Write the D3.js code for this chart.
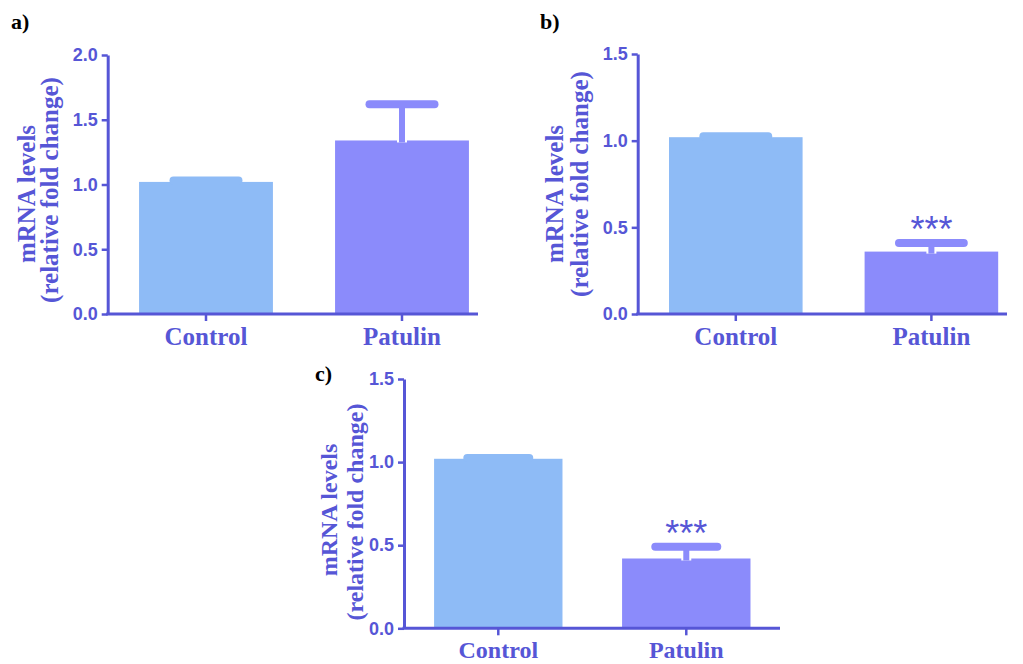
<!DOCTYPE html>
<html>
<head>
<meta charset="utf-8">
<script src="https://cdn.jsdelivr.net/npm/d3@7"></script>
<style>
  html, body { margin: 0; padding: 0; background: #ffffff; }
  svg { display: block; }
</style>
</head>
<body>
<svg id="chart" width="1023" height="664"></svg>
<script>
// ---------- data ----------
const categories = ["Control", "Patulin"];
const valuesA = [1.02, 1.34];
const errorsA = [0.01, 0.28];
const valuesB = [1.02, 0.36];
const errorsB = [0.005, 0.05];
const valuesC = [1.02, 0.42];
const errorsC = [0.004, 0.07];
const ticksA = [0, 0.5, 1.0, 1.5, 2.0];
const ticksB = [0, 0.5, 1.0, 1.5];
const ticksC = [0, 0.5, 1.0, 1.5];
const starsA = ["", ""];
const starsB = ["", "***"];
const starsC = ["", "***"];
const panelLabels = ["a)", "b)", "c)"];
const yTitleLines = ["mRNA levels", "(relative fold change)"];

// ---------- styles ----------
const axisColor = "#5656d6";
const barColors = ["#8ebbf6", "#8b8bfb"];
const serif = "'Liberation Serif', 'Times New Roman', serif";
const sans = "'Liberation Sans', Arial, sans-serif";

const svg = d3.select("#chart");

// layout for each panel
const layouts = [
  { axisX: 107.7, top: 55, bottom: 314, step: 196, xEnd: 478, font: 25, tickFont: 18,
    titleOff: [73, 50], titleCY: [194, 190], labelX: 11, labelY: 29, xlabDy: 31 },
  { axisX: 637.7, top: 54, bottom: 314, step: 195.6, xEnd: 1007, font: 25, tickFont: 18,
    titleOff: [75, 50], titleCY: [194, 184], labelX: 540, labelY: 29, xlabDy: 31 },
  { axisX: 404, top: 379, bottom: 628.3, step: 188, xEnd: 780, font: 24, tickFont: 18,
    titleOff: [67, 41], titleCY: [510, 512], labelX: 315, labelY: 381, xlabDy: 30 }
];

const panels = [
  { values: valuesA, errors: errorsA, ticks: ticksA, stars: starsA, label: panelLabels[0] },
  { values: valuesB, errors: errorsB, ticks: ticksB, stars: starsB, label: panelLabels[1] },
  { values: valuesC, errors: errorsC, ticks: ticksC, stars: starsC, label: panelLabels[2] }
];

const padInner = 0.317, padOuter = 0.16;

panels.forEach((p, i) => {
  const L = layouts[i];
  const g = svg.append("g");
  const n = categories.length;
  const rangeW = L.step * (n - padInner + 2 * padOuter);
  const x = d3.scaleBand().domain(categories)
    .range([L.axisX, L.axisX + rangeW])
    .paddingInner(padInner).paddingOuter(padOuter);
  const y = d3.scaleLinear().domain([0, d3.max(p.ticks)]).range([L.bottom, L.top]);
  const bw = x.bandwidth();

  // bars
  g.selectAll("rect.bar").data(categories).enter().append("rect")
    .attr("class", "bar")
    .attr("x", d => x(d))
    .attr("width", bw)
    .attr("y", (d, k) => y(p.values[k]))
    .attr("height", (d, k) => y(0) - y(p.values[k]))
    .attr("fill", (d, k) => barColors[k]);

  // error bars (upper only)
  const capHalf = bw * 0.545 / 2 - 4;
  categories.forEach((c, k) => {
    const cx = x(c) + bw / 2;
    const yTop = y(p.values[k] + p.errors[k]);
    const yBar = y(p.values[k]);
    if (yBar - yTop > 6) {
      g.append("line").attr("x1", cx).attr("x2", cx)
        .attr("y1", yTop).attr("y2", yBar + 2)
        .attr("stroke", "#ffffff").attr("stroke-width", 10);
      g.append("line").attr("x1", cx).attr("x2", cx)
        .attr("y1", yTop).attr("y2", yBar + 2)
        .attr("stroke", barColors[k]).attr("stroke-width", 6);
    }
    g.append("line")
      .attr("x1", cx - capHalf).attr("x2", cx + capHalf)
      .attr("y1", yTop).attr("y2", yTop)
      .attr("stroke", barColors[k]).attr("stroke-width", 8)
      .attr("stroke-linecap", "round");
    if (p.stars[k]) {
      g.append("text")
        .attr("x", cx).attr("y", yTop - 1)
        .attr("text-anchor", "middle")
        .attr("font-family", sans)
        .attr("font-size", 36)
        .attr("fill", axisColor)
        .text(p.stars[k]);
    }
  });

  // y axis
  const yAxis = d3.axisLeft(y).tickValues(p.ticks).tickFormat(d3.format(".1f"))
    .tickSize(6).tickSizeOuter(0).tickPadding(4);
  const ya = g.append("g").attr("transform", `translate(${L.axisX},0)`).call(yAxis);
  ya.select(".domain").attr("stroke", axisColor).attr("stroke-width", 3);
  ya.selectAll(".tick line").attr("stroke", axisColor).attr("stroke-width", 2.5);
  ya.selectAll(".tick text").attr("fill", axisColor)
    .attr("font-family", sans).attr("font-weight", "bold").attr("font-size", L.tickFont);

  // x axis
  const xAxis = d3.axisBottom(x).tickSize(7).tickSizeOuter(0).tickPadding(6);
  const xa = g.append("g").attr("transform", `translate(0,${L.bottom})`).call(xAxis);
  xa.select(".domain").remove();
  xa.append("line").attr("x1", L.axisX - 1.5).attr("x2", L.xEnd)
    .attr("y1", 0).attr("y2", 0)
    .attr("stroke", axisColor).attr("stroke-width", 3);
  xa.selectAll(".tick line").attr("stroke", axisColor).attr("stroke-width", 2.5);
  xa.selectAll(".tick text").attr("fill", axisColor)
    .attr("font-family", serif).attr("font-weight", "bold").attr("font-size", L.font)
    .attr("dy", null).attr("y", L.xlabDy);

  // y title
  yTitleLines.forEach((t, j) => {
    g.append("text")
      .attr("transform", `translate(${L.axisX - L.titleOff[j]},${L.titleCY[j]}) rotate(-90)`)
      .attr("text-anchor", "middle")
      .attr("font-family", serif).attr("font-weight", "bold").attr("font-size", L.font)
      .attr("fill", axisColor)
      .text(t);
  });

  // panel label
  g.append("text").attr("x", L.labelX).attr("y", L.labelY)
    .attr("font-family", serif).attr("font-weight", "bold").attr("font-size", 22)
    .attr("fill", "#000000").text(p.label);
});
</script>
</body>
</html>
